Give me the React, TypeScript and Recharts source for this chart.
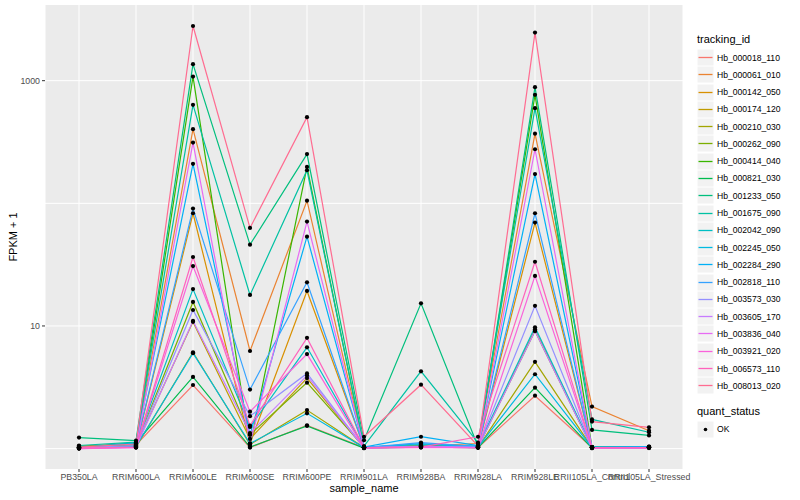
import React from 'react'
import { LineChart, Line, XAxis, YAxis, CartesianGrid } from 'recharts'

const categories = [
  'PB350LA', 'RRIM600LA', 'RRIM600LE', 'RRIM600SE', 'RRIM600PE', 'RRIM901LA',
  'RRIM928BA', 'RRIM928LA', 'RRIM928LE', 'RRII105LA_Control', 'RRII105LA_Stressed',
]

const trackingIds = [
  'Hb_000018_110', 'Hb_000061_010', 'Hb_000142_050', 'Hb_000174_120', 'Hb_000210_030',
  'Hb_000262_090', 'Hb_000414_040', 'Hb_000821_030', 'Hb_001233_050', 'Hb_001675_090',
  'Hb_002042_090', 'Hb_002245_050', 'Hb_002284_290', 'Hb_002818_110', 'Hb_003573_030',
  'Hb_003605_170', 'Hb_003836_040', 'Hb_003921_020', 'Hb_006573_110', 'Hb_008013_020',
]

const seriesColors = [
  '#F8766D', '#EA8331', '#D89000', '#C09B00', '#A3A500', '#7CAE00', '#39B600', '#00BB4E',
  '#00BF7D', '#00C1A3', '#00BFC4', '#00BAE0', '#00B0F6', '#35A2FF', '#9590FF', '#C77CFF',
  '#E76BF3', '#FA62DB', '#FF62BC', '#FF6C91',
]

// FPKM + 1, one value per sample_name
const hb000018_110 = [1.02, 1.07, 3.3, 1.02, 1.55, 1.02, 1.03, 1.02, 2.7, 1.02, 1.02]
const hb000061_010 = [1.05, 1.1, 402, 6.25, 105, 1.02, 1.05, 1.1, 370, 2.2, 1.4]
const hb000142_050 = [1.03, 1.04, 83, 1.1, 19.3, 1.03, 1.04, 1.03, 69.6, 1.03, 1.04]
const hb000174_120 = [1.01, 1.05, 10.8, 1.2, 3.76, 1.02, 1.06, 1.03, 9.4, 1.02, 1.03]
const hb000210_030 = [1.02, 1.03, 6.1, 1.08, 2.06, 1.02, 1.04, 1.02, 5.1, 1.02, 1.02]
const hb000262_090 = [1.01, 1.06, 15.7, 1.3, 3.45, 1.03, 1.05, 1.03, 9.1, 1.02, 1.03]
const hb000414_040 = [1.04, 1.08, 1080, 1.04, 198, 1.02, 1.06, 1.04, 766, 1.03, 1.03]
const hb000821_030 = [1.01, 1.12, 3.84, 1.03, 1.53, 1.01, 1.03, 1.02, 3.14, 1.01, 1.02]
const hb001233_050 = [1.23, 1.16, 1364, 46, 252, 1.17, 15.3, 1.04, 885, 1.42, 1.28]
const hb001675_090 = [1.06, 1.13, 635, 17.9, 186, 1.05, 4.27, 1.12, 597, 1.73, 1.36]
const hb002042_090 = [1.02, 1.09, 20, 1.5, 6.7, 1.03, 1.08, 1.05, 9.76, 1.03, 1.03]
const hb002245_050 = [1.01, 1.04, 6.0, 1.1, 1.94, 1.02, 1.1, 1.03, 4.04, 1.02, 1.02]
const hb002284_290 = [1.02, 1.11, 210, 1.3, 53.5, 1.03, 1.25, 1.06, 173, 1.03, 1.04]
const hb002818_110 = [1.01, 1.05, 90.6, 3.03, 22.7, 1.02, 1.12, 1.04, 83, 1.02, 1.03]
const hb003573_030 = [1.02, 1.06, 13.5, 1.84, 4.1, 1.02, 1.05, 1.03, 14.6, 1.02, 1.02]
const hb003605_170 = [1.0, 1.03, 11.0, 1.34, 3.94, 1.01, 1.04, 1.02, 9.1, 1.01, 1.02]
const hb003836_040 = [1.02, 1.02, 313, 1.1, 71, 1.02, 1.03, 1.02, 276, 1.02, 1.02]
const hb003921_020 = [1.0, 1.02, 30.8, 2.0, 5.9, 1.01, 1.02, 1.02, 25.6, 1.01, 1.01]
const hb006573_110 = [1.01, 1.03, 36.5, 1.54, 8.0, 1.02, 1.03, 1.25, 33.4, 1.02, 1.02]
const hb008013_020 = [1.03, 1.09, 2790, 63, 504, 1.25, 3.32, 1.05, 2467, 1.66, 1.49]

const seriesValues = [
  hb000018_110, hb000061_010, hb000142_050, hb000174_120, hb000210_030,
  hb000262_090, hb000414_040, hb000821_030, hb001233_050, hb001675_090,
  hb002042_090, hb002245_050, hb002284_290, hb002818_110, hb003573_030,
  hb003605_170, hb003836_040, hb003921_020, hb006573_110, hb008013_020,
]

const yTicks = [10, 1000]
const yGrid = [1, 10, 100, 1000]

const rows = categories.map((name, i) => {
  const row: Record<string, string | number> = { sample_name: name }
  trackingIds.forEach((id, s) => {
    row[id] = seriesValues[s][i]
  })
  return row
})

const FONT = '"Liberation Sans", Arial, Helvetica, sans-serif'

function LegendPanel() {
  const step = 17.28
  return (
    <div style={{ position: 'absolute', left: 697, top: 0, width: 103, height: 500, fontFamily: FONT }}>
      <div style={{ position: 'absolute', top: 33, left: 0, fontSize: 11, color: '#000', whiteSpace: 'nowrap' }}>
        tracking_id
      </div>
      {trackingIds.map((id, i) => {
        const top = 57.3 - 8.3 + i * step
        return (
          <div key={id} style={{ position: 'absolute', top, left: 0, height: 17, whiteSpace: 'nowrap' }}>
            <svg width={17} height={17} style={{ position: 'absolute', left: 0, top: 0 }}>
              <rect x={0} y={0} width={17} height={17} fill="#F2F2F2" stroke="#fff" strokeWidth={1} />
              <line x1={1.5} x2={15.5} y1={8.5} y2={8.5} stroke={seriesColors[i]} strokeWidth={1.3} />
            </svg>
            <span style={{ position: 'absolute', left: 20, top: 2.5, fontSize: 8.6, color: '#000', lineHeight: '12px' }}>
              {id}
            </span>
          </div>
        )
      })}
      <div style={{ position: 'absolute', top: 405, left: 0, fontSize: 11, color: '#000', whiteSpace: 'nowrap' }}>
        quant_status
      </div>
      <div style={{ position: 'absolute', top: 420.5, left: 0, height: 17 }}>
        <svg width={17} height={17} style={{ position: 'absolute', left: 0, top: 0 }}>
          <rect x={0} y={0} width={17} height={17} fill="#F2F2F2" stroke="#fff" strokeWidth={1} />
          <circle cx={8.5} cy={8.5} r={1.8} fill="#000" />
        </svg>
        <span style={{ position: 'absolute', left: 20, top: 2.5, fontSize: 8.6, color: '#000', lineHeight: '12px' }}>
          OK
        </span>
      </div>
    </div>
  )
}

export default function App() {
  return (
    <div style={{ position: 'absolute', left: 0, top: 0, width: 800, height: 500, background: '#fff', fontFamily: FONT }}>
      <LineChart
        width={800}
        height={500}
        data={rows}
        margin={{ top: 5, right: 117, left: 10, bottom: 11 }}
      >
        <CartesianGrid
          fill="#EBEBEB"
          stroke="#fff"
          strokeWidth={1}
          horizontalValues={yGrid}
        />
        <XAxis
          dataKey="sample_name"
          interval={0}
          padding={{ left: 34, right: 34 }}
          axisLine={false}
          tickSize={3}
          tickMargin={2}
          height={20}
          tickLine={{ stroke: '#333333' }}
          tick={{ fontSize: 8.8, fill: '#4D4D4D', fontFamily: FONT }}
        />
        <YAxis
          scale="log"
          domain={[0.682, 4140]}
          allowDataOverflow
          ticks={yTicks}
          width={35}
          axisLine={false}
          tickSize={3}
          tickMargin={2}
          tickLine={{ stroke: '#333333' }}
          tick={{ fontSize: 8.8, fill: '#4D4D4D', fontFamily: FONT }}
        />
        {trackingIds.map((id, i) => (
          <Line
            key={id}
            dataKey={id}
            stroke={seriesColors[i]}
            strokeWidth={1.2}
            dot={false}
            activeDot={false}
            isAnimationActive={false}
            type="linear"
          />
        ))}
        {trackingIds.map(id => (
          <Line
            key={`${id}-pt`}
            dataKey={id}
            stroke="none"
            dot={{ r: 2.1, fill: '#000', stroke: 'none' }}
            activeDot={false}
            isAnimationActive={false}
            legendType="none"
          />
        ))}
      </LineChart>
      <div style={{ position: 'absolute', left: 0, top: 482, width: 728, fontSize: 11, color: '#000' }}>
        <span style={{ position: 'absolute', left: 364, transform: 'translateX(-50%)', whiteSpace: 'nowrap' }}>sample_name</span>
      </div>
      <div
        style={{
          position: 'absolute',
          left: 13,
          top: 237,
          fontSize: 11,
          color: '#000',
          whiteSpace: 'nowrap',
          transform: 'translate(-50%, -50%) rotate(-90deg)',
        }}
      >
        FPKM + 1
      </div>
      <LegendPanel />
    </div>
  )
}
